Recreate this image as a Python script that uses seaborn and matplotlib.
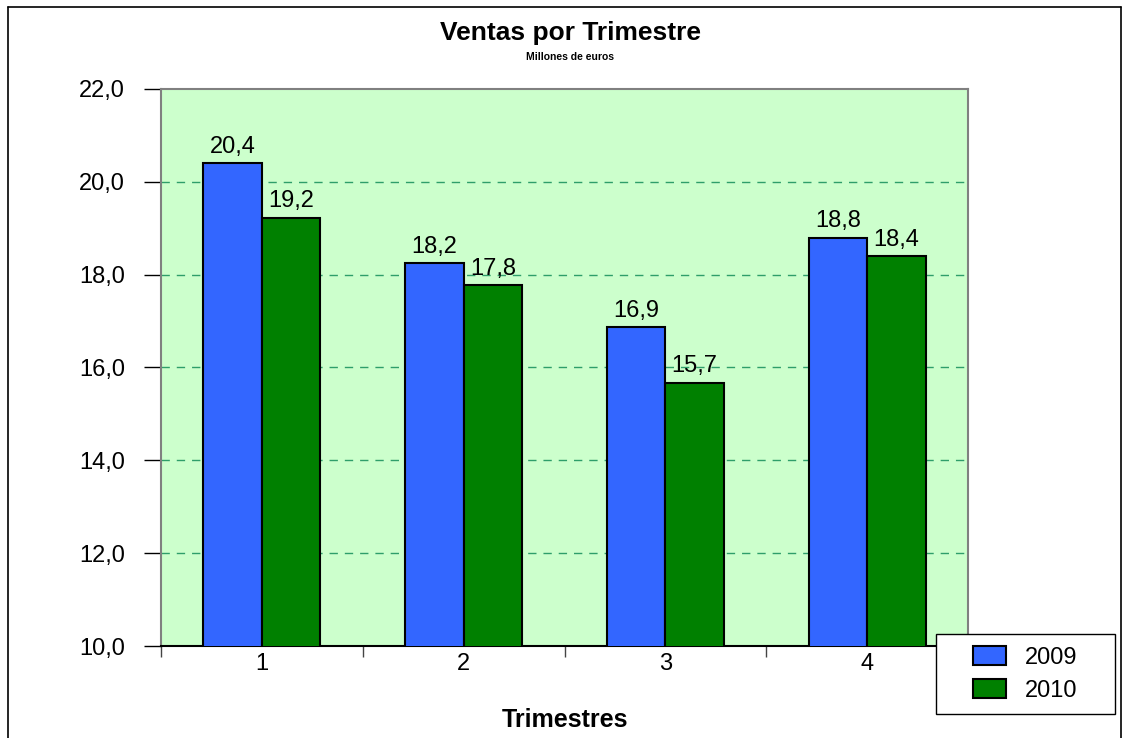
import matplotlib
matplotlib.use("Agg")
import matplotlib.pyplot as plt
import seaborn as sns
import pandas as pd
from matplotlib.lines import Line2D
from matplotlib.patches import Rectangle

quarters = ["1", "2", "3", "4"]
ventas_2009 = [20.4, 18.25, 16.87, 18.8]
ventas_2010 = [19.22, 17.77, 15.67, 18.4]
labels_2009 = ["20,4", "18,2", "16,9", "18,8"]
labels_2010 = ["19,2", "17,8", "15,7", "18,4"]
series = ["2009", "2010"]
yticks = [10, 12, 14, 16, 18, 20, 22]

df = pd.DataFrame({
    "Trimestre": quarters * 2,
    "Año": [series[0]] * 4 + [series[1]] * 4,
    "Ventas": ventas_2009 + ventas_2010,
})

sns.set_theme(style="white")
plt.rcParams["font.family"] = ["Liberation Sans", "DejaVu Sans"]
plt.rcParams["text.color"] = "black"
plt.rcParams["axes.labelcolor"] = "black"
plt.rcParams["xtick.color"] = "black"
plt.rcParams["ytick.color"] = "black"

W, H = 1132, 738
fig = plt.figure(figsize=(W / 100, H / 100), dpi=100)
ax = fig.add_axes([161 / W, 1 - 646 / H, (968 - 161) / W, (646 - 89) / H])
ax.set_facecolor("#CCFFCC")

sns.barplot(data=df, x="Trimestre", y="Ventas", hue="Año", order=quarters,
            hue_order=series, palette=["#3366FF", "#008000"], width=0.58,
            saturation=1, edgecolor="black", linewidth=1.5, ax=ax, legend=True,
            zorder=3, errorbar=None)

ax.set_ylim(10, 22)
ax.set_xlim(-0.5, 3.5)
ax.set_yticks(yticks)
ax.set_yticklabels([f"{v},0" for v in yticks], fontsize=17)
for y in yticks[1:-1]:
    ax.axhline(y, color="#2E9E6A", linestyle=(0, (6, 5)), linewidth=1, zorder=1)

for cont, labs in zip(ax.containers, [labels_2009, labels_2010]):
    ax.bar_label(cont, labels=labs, padding=4, fontsize=17, color="black")

ax.set_xticks(range(4))
ax.set_xticklabels(quarters, fontsize=17)
ax.set_xticks([-0.5, 0.5, 1.5, 2.5, 3.5], minor=True)
ax.tick_params(axis="x", which="major", length=0, pad=5)
ax.tick_params(axis="x", which="minor", length=8, width=1, color="#444444", direction="out", bottom=True)
ax.tick_params(axis="y", which="major", length=12, width=1, color="black", direction="out", left=True, pad=14)
ax.set_xlabel("Trimestres", fontsize=18, fontweight="bold", labelpad=24, color="black")
ax.set_ylabel("")

for s in ["top", "right", "left"]:
    ax.spines[s].set_color("#808080")
    ax.spines[s].set_linewidth(1.5)
ax.spines["bottom"].set_color("black")
ax.spines["bottom"].set_linewidth(1.5)

fig.text(570 / W, 1 - 33 / H, "Ventas por Trimestre", ha="center", va="center",
         fontsize=19, fontweight="bold", color="black")
fig.text(570 / W, 1 - 57 / H, "Millones de euros", ha="center", va="center",
         fontsize=7.5, fontweight="bold", color="black")

leg = ax.get_legend()
handles = leg.legend_handles
leg.remove()
lx0, lx1, ly0, ly1 = 936, 1115, 634, 714
fig.add_artist(Rectangle((lx0 / W, 1 - ly1 / H), (lx1 - lx0) / W, (ly1 - ly0) / H,
                         facecolor="white", edgecolor="black", linewidth=1,
                         transform=fig.transFigure, zorder=4))
leg = fig.legend(handles, series, loc="center",
                 bbox_to_anchor=((lx0 + lx1) / 2 / W, 1 - (ly0 + ly1) / 2 / H),
                 fontsize=17, frameon=False,
                 handlelength=1.4, handleheight=0.85, handletextpad=0.8,
                 labelspacing=0.45, borderpad=0.2)
leg.set_zorder(5)
for h in leg.legend_handles:
    h.set_edgecolor("black")
    h.set_linewidth(1.5)

# outer chart border
x0, x1, y0 = 8 / W, 1121 / W, 1 - 7 / H
for xs, ys in [([x0, x1], [y0, y0]), ([x0, x0], [y0, -0.01]), ([x1, x1], [y0, -0.01])]:
    fig.add_artist(Line2D(xs, ys, color="black", linewidth=1.2, transform=fig.transFigure))

fig.savefig("out.png", dpi=100)
